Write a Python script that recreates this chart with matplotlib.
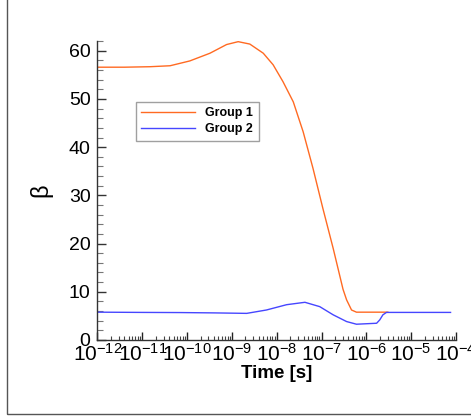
import matplotlib
matplotlib.use("Agg")
import numpy as np
import matplotlib.pyplot as plt
from matplotlib.patches import Rectangle
from matplotlib.ticker import LogLocator, MultipleLocator, NullFormatter

plt.rcParams['font.family'] = ['Liberation Sans', 'DejaVu Sans']
plt.rcParams['mathtext.fontset'] = 'custom'
plt.rcParams['mathtext.rm'] = 'Liberation Sans'
plt.rcParams['mathtext.it'] = 'Liberation Sans'

# valores (exponente de tiempo, beta)
log_t_g1 = [-12.0, -11.4, -10.83, -10.38, -9.94, -9.49, -9.12, -8.86, -8.60,
            -8.30, -8.08, -7.86, -7.63, -7.41, -7.19, -6.97, -6.74, -6.52,
            -6.44, -6.33, -6.22, -5.52]
beta_g1 = [56.6, 56.6, 56.7, 56.9, 57.9, 59.5, 61.3, 61.9, 61.4,
           59.5, 57.1, 53.6, 49.4, 43.2, 35.6, 27.3, 19.0, 10.5,
           8.3, 6.2, 5.75, 5.75]

log_t_g2 = [-12.0, -11.0, -10.16, -9.4, -8.67, -8.23, -7.78, -7.37, -7.04,
            -6.74, -6.44, -6.22, -5.77, -5.70, -5.63, -5.55, -4.12]
beta_g2 = [5.75, 5.7, 5.67, 5.6, 5.5, 6.2, 7.3, 7.8, 6.9,
           5.2, 3.8, 3.25, 3.45, 4.15, 5.2, 5.7, 5.7]

t_g1 = 10.0 ** np.array(log_t_g1)
t_g2 = 10.0 ** np.array(log_t_g2)

fig = plt.figure(figsize=(4.71, 4.16), dpi=100)
ax = fig.add_axes([0.207, 0.183, 0.761, 0.718])

# marco exterior
fig.patches.append(Rectangle((7 / 471, 2 / 416), 1.2, 1.2, transform=fig.transFigure,
                             fill=False, edgecolor='#555555', linewidth=1.0))

ax.plot(t_g1, beta_g1, color='#ff6a22', lw=1.0, label='Group 1')
ax.plot(t_g2, beta_g2, color='#4646ff', lw=1.0, label='Group 2')

ax.set_xscale('log')
ax.set_xlim(1e-12, 1e-4)
ax.set_ylim(0, 62)

ax.xaxis.set_major_locator(LogLocator(base=10, numticks=20))
ax.xaxis.set_minor_locator(LogLocator(base=10, subs=np.arange(2, 10), numticks=20))
ax.xaxis.set_minor_formatter(NullFormatter())
ax.yaxis.set_major_locator(MultipleLocator(10))
ax.yaxis.set_minor_locator(MultipleLocator(2))

ax.spines['top'].set_visible(False)
ax.spines['right'].set_visible(False)
for s in ['left', 'bottom']:
    ax.spines[s].set_color('#333333')
    ax.spines[s].set_linewidth(1.0)

ax.tick_params(axis='x', which='major', direction='in', length=5.8, width=1,
               labelsize=15, pad=2, color='#222222')
ax.tick_params(axis='x', which='minor', direction='in', length=2.9, width=0.8,
               color='#444444')
ax.tick_params(axis='y', which='major', direction='in', length=6.5, width=1,
               labelsize=14, pad=5, color='#333333')
ax.tick_params(axis='y', which='minor', direction='in', length=4.0, width=0.8,
               color='#777777')

ax.set_xlabel('Time [s]', fontsize=13.5, fontweight='bold', labelpad=0)
ax.set_ylabel('β', fontsize=17, labelpad=12)

leg = ax.legend(loc='upper left', bbox_to_anchor=(0.107, 0.797),
                prop={'weight': 'bold', 'size': 9}, frameon=True, fancybox=False,
                handlelength=4.3, handletextpad=0.8, labelspacing=0.3,
                borderpad=0.45, borderaxespad=0)
leg.get_frame().set_edgecolor('#888888')
leg.get_frame().set_linewidth(1.0)

fig.savefig('out.png', dpi=100)
